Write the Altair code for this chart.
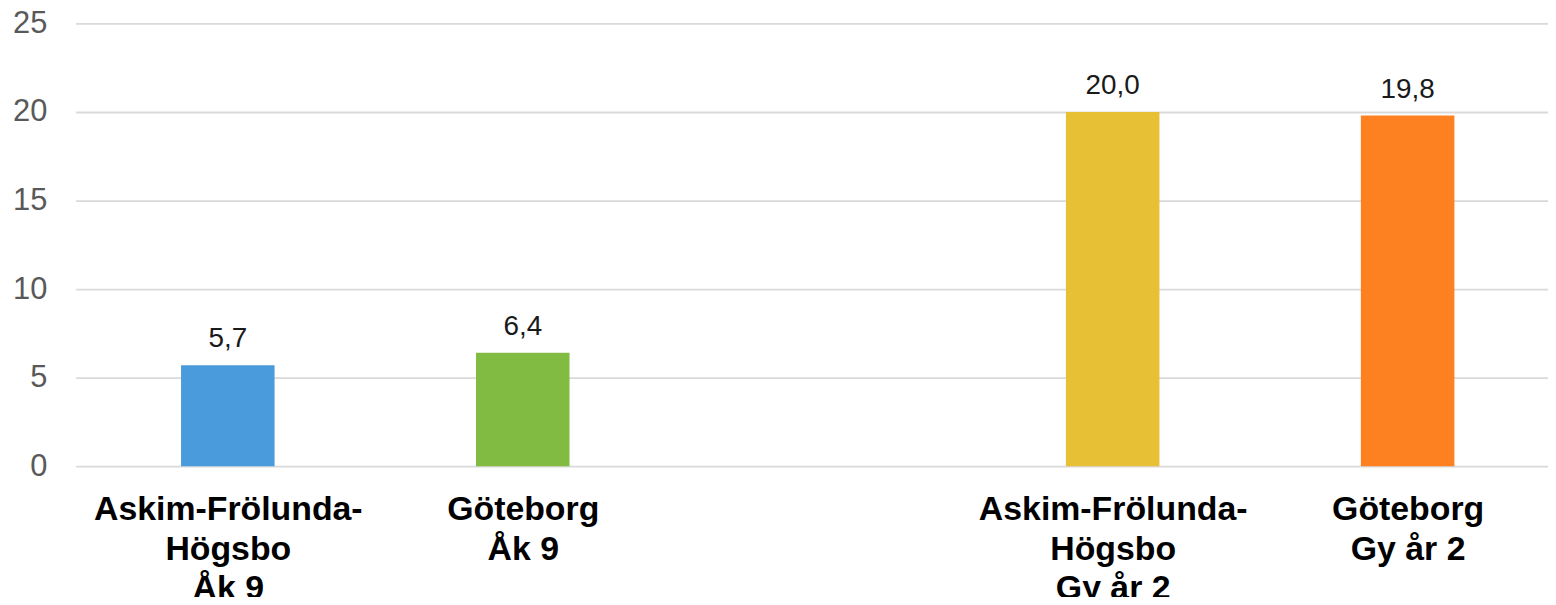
import altair as alt
import pandas as pd

# Slot positions on the category axis (slot 2 is an empty gap between groups)
slots = [0, 1, 3, 4]
label_lines = [
    ["Askim-Frölunda-", "Högsbo", "Åk 9"],
    ["Göteborg", "Åk 9"],
    ["Askim-Frölunda-", "Högsbo", "Gy år 2"],
    ["Göteborg", "Gy år 2"],
]
values = [5.7, 6.4, 20.0, 19.8]
colors = ["#4A9BDC", "#82BB42", "#E8C035", "#FD8120"]
y_ticks = [0, 5, 10, 15, 20, 25]

df = pd.DataFrame({
    "pos": slots,
    "cat": [" ".join(l) for l in label_lines],
    "value": values,
    "label": [f"{v:.1f}".replace(".", ",") for v in values],
})

FONT = "Liberation Sans"

def arr(lines):
    return "[" + ",".join("'" + s + "'" for s in lines) + "]"

label_expr = ""
for s, lines in zip(slots, label_lines):
    label_expr += f"datum.value == {s} ? {arr(lines)} : "
label_expr += "''"

x = alt.X(
    "pos:Q",
    scale=alt.Scale(domain=[-0.499, 4.459], nice=False, zero=False),
    axis=alt.Axis(
        title=None, domain=False, ticks=False, grid=False, values=slots,
        labelExpr=label_expr,
        labelFont=FONT, labelFontSize=34, labelFontWeight="bold",
        labelColor="#000000", labelLineHeight=39.5, labelLimit=0,
        labelOverlap=False, labelPadding=27, labelAngle=0,
        labelBaseline="top", labelAlign="center", labelFlush=False,
    ),
)
y = alt.Y(
    "value:Q",
    scale=alt.Scale(domain=[0, 25], nice=False),
    axis=alt.Axis(
        title=None, values=y_ticks, domain=False, ticks=False,
        grid=True, gridColor="#D9D9D9", gridWidth=1.8,
        labelFont=FONT, labelFontSize=31, labelColor="#595959",
        labelPadding=29,
    ),
)

bars = alt.Chart(df).mark_bar(size=94).encode(
    x=x, y=y,
    color=alt.Color("cat:N", scale=alt.Scale(domain=df["cat"].tolist(), range=colors), legend=None),
)
text = alt.Chart(df).mark_text(
    font=FONT, fontSize=28, color="#1A1A1A", baseline="alphabetic", dy=-18
).encode(x=x, y=y, text="label:N")

chart = alt.layer(bars, text).properties(
    width=1480, height=445,
    autosize=alt.AutoSizeParams(type="none"),
    padding={"left": 68, "top": 14, "right": 0, "bottom": 130},
).configure_view(stroke=None)

chart.save("out.html", embed_options={"renderer": "svg", "actions": False})
